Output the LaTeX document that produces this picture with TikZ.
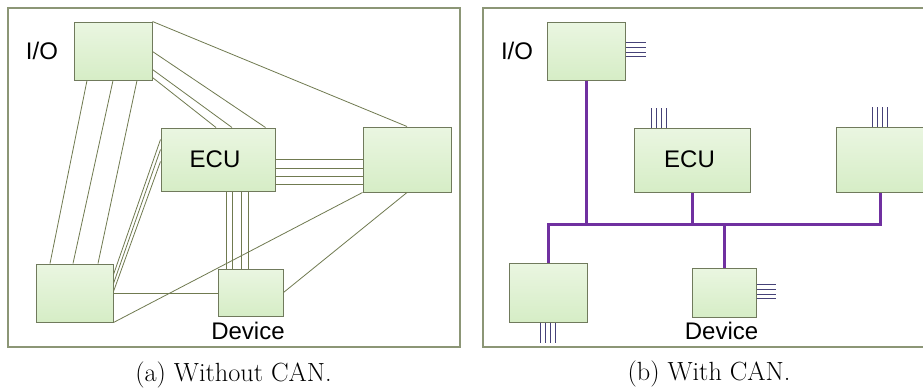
\documentclass[tikz,border=0pt]{standalone}
\usepackage{fontspec}
\newfontfamily\labelfont{Liberation Sans}
\usetikzlibrary{calc}

\definecolor{framecol}{RGB}{140,150,118}
\definecolor{boxline}{RGB}{112,122,92}
\definecolor{boxtop}{RGB}{234,246,225}
\definecolor{boxbot}{RGB}{214,237,198}
\definecolor{wirecol}{RGB}{112,122,80}
\definecolor{buscol}{RGB}{112,48,160}
\definecolor{stubcol}{RGB}{70,66,120}

\tikzset{
  panel/.style={draw=framecol, line width=1.3pt},
  unit/.style={draw=boxline, line width=1pt, top color=boxtop, bottom color=boxbot,
    rectangle, inner sep=0pt},
  wire/.style={draw=wirecol, line width=0.8pt},
  canbus/.style={draw=buscol, line width=3pt},
  stub/.style={draw=stubcol, line width=0.8pt},
  lbl/.style={font=\labelfont\fontsize{24}{28}\selectfont, anchor=base, inner sep=0pt},
  capt/.style={font=\fontsize{26.3}{30}\selectfont, anchor=base, inner sep=0pt}
}

\begin{document}
\begin{tikzpicture}[x=1pt, y=-1pt]
\useasboundingbox (0,0) rectangle (923,388);
\clip (0,0) rectangle (923,388);
\fill[white] (0,0) rectangle (923,388);

% ---------- (a) point-to-point wiring ----------
\draw[panel] (8,8) rectangle (460,347);

\node[unit, minimum width=78pt, minimum height=58pt] (io)  at (113,51) {};
\node[unit, minimum width=114pt, minimum height=63pt] (ecu) at (218,159.5) {};
\node[unit, minimum width=88pt, minimum height=65pt] (rb)  at (407,159.5) {};
\node[unit, minimum width=77pt, minimum height=58pt] (bl)  at (74.5,293) {};
\node[unit, minimum width=65pt, minimum height=47pt] (dev) at (250.5,292.5) {};

\node[lbl] (lio)  at (42,59) {I/O};
\node[lbl] (lecu) at (215,167) {ECU};
\node[lbl] (ldev) at (248,339) {Device};

% I/O to the right-hand unit and to the ECU
\draw[wire] (io.north east) -- (rb.north);
\draw[wire] ($(io.north east)+(0,30)$) -- ($(ecu.north east)+(-10,0)$);
\draw[wire] ($(io.north east)+(0,48)$) -- ($(ecu.north)+(14,0)$);
\draw[wire] ($(io.north east)+(0,56)$) -- ($(ecu.north)+(-2,0)$);

% I/O down to the lower-left unit
\draw[wire] ($(io.south)+(-26,0)$) -- ($(bl.north)+(-24.5,0)$);
\draw[wire] (io.south) -- ($(bl.north)+(-1.5,0)$);
\draw[wire] ($(io.south)+(24,0)$) -- ($(bl.north)+(23.5,0)$);

% ECU to the lower-left unit
\draw[wire] ($(ecu.north west)+(0,12)$) -- ($(bl.north east)+(0,11)$);
\draw[wire] ($(ecu.north west)+(0,22)$) -- ($(bl.north east)+(0,20)$);
\draw[wire] ($(ecu.north west)+(0,34)$) -- ($(bl.north east)+(0,28)$);

% ECU to the right-hand unit
\foreach \k in {0,8.5,17,24.5}
  \draw[wire] ($(ecu.east)+(0,\k)$) -- ($(rb.west)+(0,\k)$);

% ECU to the device
\foreach \k in {8,14,23,30}
  \draw[wire] ($(ecu.south)+(\k,0)$) coordinate (t) -- (t |- dev.north);

% remaining links
\draw[wire] (bl.east) -- (bl.east -| dev.west);
\draw[wire] (bl.south east) -- (rb.south west);
\draw[wire] (dev.east) -- (rb.south);

\node[capt] (capa) at (233.5,381.5) {(a) Without CAN.};

% ---------- (b) shared CAN bus ----------
\draw[panel] (483,8) rectangle (935,347);

\node[unit, minimum width=78pt, minimum height=58pt] (io2)  at (586,51) {};
\node[unit, minimum width=116pt, minimum height=64pt] (ecu2) at (692,160) {};
\node[unit, minimum width=88pt, minimum height=65pt] (rb2)  at (880,159.5) {};
\node[unit, minimum width=78pt, minimum height=59pt] (bl2)  at (548,292.5) {};
\node[unit, minimum width=64pt, minimum height=49pt] (dev2) at (724,292.5) {};

\node[lbl] (lio2)  at (517,59) {I/O};
\node[lbl] (lecu2) at (689.5,167) {ECU};
\node[lbl] (ldev2) at (721.5,339) {Device};

% the bus itself
\coordinate (busR) at ($(rb2.south)+(0,32)$);
\draw[canbus] (bl2.north) |- (busR) -- (rb2.south);
\draw[canbus] (io2.south) -- (io2.south |- busR);
\draw[canbus] (ecu2.south) -- (ecu2.south |- busR);
\draw[canbus] (dev2.north) -- (dev2.north |- busR);

% local wiring stubs of each unit
\foreach \k in {21,26,31,35}
  \draw[stub] ($(io2.north east)+(0,\k)$) -- ++(20,0);
\foreach \k in {18,23,28,33}
  \draw[stub] ($(ecu2.north west)+(\k,0)$) -- ++(0,-20);
\foreach \k in {37,42,47,52}
  \draw[stub] ($(rb2.north west)+(\k,0)$) -- ++(0,-20);
\foreach \k in {17,22,27,31}
  \draw[stub] ($(dev2.north east)+(0,\k)$) -- ++(19,0);
\foreach \k in {-8,-3,2,7}
  \draw[stub] ($(bl2.south)+(\k,0)$) -- ++(0,20);

\node[capt] (capb) at (709,380.5) {(b) With CAN.};
\end{tikzpicture}
\end{document}
